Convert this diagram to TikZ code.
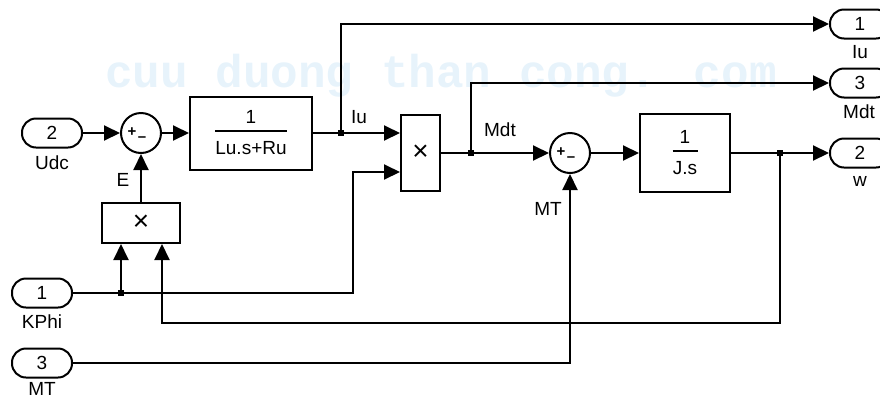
\documentclass[tikz,border=0pt]{standalone}
\usepackage{fontspec}
\setmainfont{Liberation Sans}
\newfontfamily\wmfont{Liberation Mono}
\usetikzlibrary{arrows.meta, positioning, calc}
\definecolor{wmblue}{RGB}{231,243,251}

\begin{document}
\begin{tikzpicture}[x=1pt, y=-1pt,
  port/.style={rectangle, rounded corners=14pt, draw=black, line width=2pt,
               minimum width=60pt, minimum height=29pt, inner sep=0pt,
               font=\fontsize{19}{22}\selectfont},
  blk/.style={rectangle, draw=black, line width=2pt, inner sep=0pt,
              align=center, font=\fontsize{19}{22}\selectfont},
  mul/.style={blk, font=\fontsize{28}{30}\selectfont},
  sumc/.style={circle, draw=black, line width=2pt, minimum size=40pt, inner sep=0pt},
  sgn/.style={inner sep=0pt, font=\fontsize{15}{16}\selectfont\bfseries},
  lbl/.style={inner sep=0pt, font=\fontsize{19}{22}\selectfont},
  jdot/.style={rectangle, fill=black, minimum size=6pt, inner sep=0pt},
  arr/.style={-{Triangle[length=16pt, width=15pt]}, line width=2pt}]

  \useasboundingbox (0,0) rectangle (880,400);

  % watermark
  \node[anchor=base, inner sep=0pt, text=wmblue,
        font=\wmfont\bfseries\fontsize{46}{50}\selectfont] (wm) at (441,87)
    {cuu duong than cong. com};

  % ports
  \node[port] (udc)  at (52,133)  {2};
  \node[port] (kphi) at (42,293)  {1};
  \node[port] (mt)   at (42,363)  {3};
  \node[port] (out1) at (860,24)  {1};
  \node[port] (out3) at (860,83)  {3};
  \node[port] (out2) at (860,153) {2};

  \node[lbl] at (52,163)  {Udc};
  \node[lbl] at (42,322)  {KPhi};
  \node[lbl] at (42,389)  {MT};
  \node[lbl] at (860,52)  {Iu};
  \node[lbl] at (859,112) {Mdt};
  \node[lbl] at (860,181) {w};

  % blocks
  \node[sumc] (sum1) at (141,133) {};
  \node[sgn] at (132,132) {+};
  \node[sgn] at (142,139) {\textendash};
  \node[blk, minimum width=122pt, minimum height=73pt] (lublk) at (251,133)
    {1\\[-14pt]\rule{72pt}{2pt}\\[1pt]Lu.s+Ru};
  \node[mul, minimum width=39pt, minimum height=76pt] (prod2) at (420.5,153) {×};
  \node[mul, minimum width=78pt, minimum height=40pt] (prod1) at (141,223) {×};
  \node[sumc] (sum2) at (570,153) {};
  \node[sgn] at (561,152) {+};
  \node[sgn] at (571,159) {\textendash};
  \node[blk, minimum width=90pt, minimum height=78pt] (jblk) at (685,153)
    {1\\[-14pt]\rule{25pt}{2pt}\\[1pt]J.s};

  % signal labels
  \node[lbl] at (123,180) {E};
  \node[lbl] at (359,117) {Iu};
  \node[lbl] at (500,130) {Mdt};
  \node[lbl] at (548,209) {MT};

  % junctions
  \node[jdot] (iujunc)  at (341,133) {};
  \node[jdot] (mdtjunc) at (471,153) {};
  \node[jdot] (wjunc)   at (780,153) {};
  \node[jdot] (kjunc)   at (121,293) {};

  \coordinate (kin) at ([yshift=-19pt]prod2.west);
  \coordinate (win) at ([xshift=21pt]prod1.south);

  % connections
  \draw[arr] (udc.east)   -- (sum1.west);
  \draw[arr] (sum1.east)  -- (lublk.west);
  \draw[arr] (lublk.east) -- (prod2.west |- lublk.east);
  \draw[arr] (iujunc.center) |- (out1.west);
  \draw[arr] (prod2.east) -- (sum2.west);
  \draw[arr] (mdtjunc.center) |- (out3.west);
  \draw[arr] (sum2.east)  -- (jblk.west);
  \draw[arr] (jblk.east)  -- (out2.west);
  \draw[arr] (wjunc.center) -- ++(0,170) -| (win);
  \draw[arr] (kphi.east) -- ++(280,0) |- (kin);
  \draw[arr] (kjunc.center) -- (kjunc |- prod1.south);
  \draw[arr] (mt.east) -| (sum2.south);
  \draw[arr] (prod1.north) -- (sum1.south);

\end{tikzpicture}
\end{document}
